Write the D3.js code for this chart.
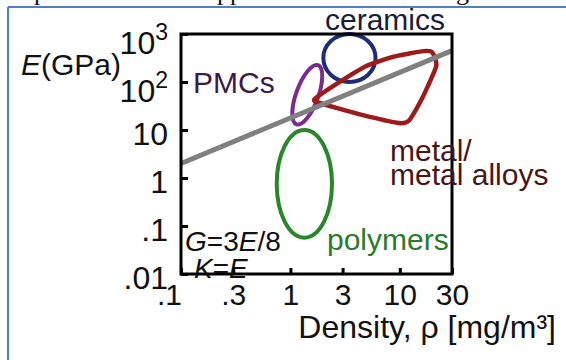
<!DOCTYPE html>
<html><head><meta charset="utf-8">
<script src="https://cdn.jsdelivr.net/npm/d3@7"></script>
<style>
html,body{margin:0;padding:0;background:#fff;}
svg{display:block;font-family:"Liberation Sans",Arial,sans-serif;}
</style></head><body>
<svg id="chart" width="566" height="360"></svg>
<script>
// Density axis (mg/m^3) and modulus axis (GPa) ticks
const densityTicks = [0.1, 0.3, 1, 3, 10, 30];
const densityTickLabels = [".1", ".3", "1", "3", "10", "30"];
const modulusTicks = [1000, 100, 10, 1, 0.1, 0.01];
const modulusTickBase = ["10", "10", "10", "1", ".1", ".01"];
const modulusTickExp = ["3", "2", "", "", "", ""];

// Material classes drawn as ellipses: density range, modulus range, tilt (deg)
const ellipseNames = ["ceramics", "PMCs", "polymers"];
const ellipseDensity = [[2, 6], [1.13, 1.8], [0.75, 2.4]];
const ellipseModulus = [[100, 1000], [12, 245], [0.057, 10]];
const ellipseTilt = [0, 20, 0];
const ellipseColors = ["#1f2c78", "#7b2d8e", "#2a862a"];

// Metal / metal alloys envelope (density, modulus)
const metalDensity = [1.65, 2.6, 4.9, 9.2, 16.5, 19.8, 21.5, 15.8, 12.1, 9.8, 5.2, 3.0, 1.95];
const metalModulus = [43, 89, 213, 345, 440, 415, 213, 43, 15.6, 14, 19, 26.5, 35.5];

// Guide line, modulus proportional to density
const guideDensity = [0.1, 30];
const guideModulus = [2, 450];

const svg = d3.select("#chart");

// page frame and the clipped line of text above it
svg.append("line").attr("x1", 8).attr("y1", 7).attr("x2", 566).attr("y2", 7)
  .attr("stroke", "#4f7fc4").attr("stroke-width", 2);
svg.append("line").attr("x1", 8).attr("y1", 7).attr("x2", 8).attr("y2", 360)
  .attr("stroke", "#4f7fc4").attr("stroke-width", 2);
const head = svg.append("g").attr("font-family", "'Liberation Serif', serif")
  .attr("font-size", 26).attr("fill", "#111");
[["p", 34], ["pp", 217], ["g", 456]].forEach(([t, xx]) =>
  head.append("text").attr("x", xx).attr("y", -0.5).text(t));

const x = d3.scaleLog().domain([0.1, 30]).range([181, 452]);
const y = d3.scaleLog().domain([0.01, 1000]).range([274, 34]);

// material regions
const regions = svg.append("g").attr("fill", "none");
ellipseNames.forEach((name, i) => {
  const [d0, d1] = ellipseDensity[i], [m0, m1] = ellipseModulus[i];
  const cx = (x(d0) + x(d1)) / 2, cy = (y(m0) + y(m1)) / 2;
  regions.append("ellipse")
    .attr("cx", cx).attr("cy", cy)
    .attr("rx", (x(d1) - x(d0)) / 2).attr("ry", (y(m0) - y(m1)) / 2)
    .attr("transform", `rotate(${ellipseTilt[i]},${cx},${cy})`)
    .attr("stroke", ellipseColors[i]).attr("stroke-width", 4);
});
const metalPts = metalDensity.map((d, i) => [x(d), y(metalModulus[i])]);
regions.append("path")
  .attr("d", d3.line().curve(d3.curveCardinalClosed.tension(0.4))(metalPts))
  .attr("stroke", "#9e1b1b").attr("stroke-width", 4.5).attr("stroke-linejoin", "round");

// guide line
svg.append("line")
  .attr("x1", x(guideDensity[0])).attr("y1", y(guideModulus[0]))
  .attr("x2", x(guideDensity[1])).attr("y2", y(guideModulus[1]))
  .attr("stroke", "#808080").attr("stroke-width", 5);

// frame of the plot
svg.append("rect").attr("x", 181).attr("y", 34).attr("width", 271).attr("height", 240)
  .attr("fill", "none").attr("stroke", "#000").attr("stroke-width", 3);

// axes
const yAxis = svg.append("g").attr("transform", "translate(181,0)")
  .call(d3.axisLeft(y).tickValues(modulusTicks).tickSizeInner(-7).tickSizeOuter(0)
    .tickPadding(13).tickFormat(() => ""));
yAxis.select(".domain").remove();
yAxis.attr("font-size", null).attr("font-family", null);
yAxis.selectAll("line").attr("stroke", "#000").attr("stroke-width", 3);
yAxis.selectAll("text").each(function (d, i) {
  const t = d3.select(this).attr("font-size", 32).attr("fill", "#111")
    .attr("dy", modulusTickExp[i] ? "0.62em" : "0.45em");
  t.append("tspan").text(modulusTickBase[i]);
  if (modulusTickExp[i]) t.append("tspan").attr("font-size", "0.72em").attr("dy", "-0.62em").text(modulusTickExp[i]);
});

const xAxis = svg.append("g").attr("transform", "translate(0,274)")
  .call(d3.axisBottom(x).tickValues(densityTicks).tickSizeInner(-6).tickSizeOuter(0)
    .tickPadding(10).tickFormat((d, i) => densityTickLabels[i]));
xAxis.select(".domain").remove();
xAxis.attr("font-size", null).attr("font-family", null);
xAxis.selectAll("line").attr("stroke", "#000").attr("stroke-width", 3);
xAxis.selectAll("text").attr("font-size", 30).attr("fill", "#111")
  .attr("dx", (d, i) => i === 0 ? "-0.4em" : null);

// axis titles
const yTitle = svg.append("text").attr("x", 21).attr("y", 75).attr("font-size", 30).attr("fill", "#111");
yTitle.append("tspan").attr("font-style", "italic").text("E");
yTitle.append("tspan").text("(GPa)");

svg.append("text").attr("x", 556).attr("y", 338).attr("text-anchor", "end")
  .attr("font-size", 32).attr("fill", "#111").text("Density, ρ [mg/m³]");

// region labels
const lab = svg.append("g").attr("font-size", 30);
lab.append("text").attr("x", 325).attr("y", 30).attr("fill", "#1c1c3a").text("ceramics");
lab.append("text").attr("x", 193).attr("y", 93).attr("fill", "#3c1a46").text("PMCs");
lab.append("text").attr("x", 390).attr("y", 161).attr("fill", "#4a1515").text("metal/");
lab.append("text").attr("x", 390).attr("y", 185).attr("fill", "#4a1515").text("metal alloys");
lab.append("text").attr("x", 327).attr("y", 250).attr("fill", "#2c7a2c").text("polymers");

const rel = svg.append("g").attr("font-size", 28).attr("fill", "#111");
const g1 = rel.append("text").attr("x", 185).attr("y", 251);
g1.append("tspan").attr("font-style", "italic").text("G");
g1.append("tspan").text("=3");
g1.append("tspan").attr("font-style", "italic").text("E");
g1.append("tspan").text("/8");
const g2 = rel.append("text").attr("x", 194).attr("y", 278);
g2.append("tspan").attr("font-style", "italic").text("K");
g2.append("tspan").text("=");
g2.append("tspan").attr("font-style", "italic").text("E");
</script>
</body></html>
